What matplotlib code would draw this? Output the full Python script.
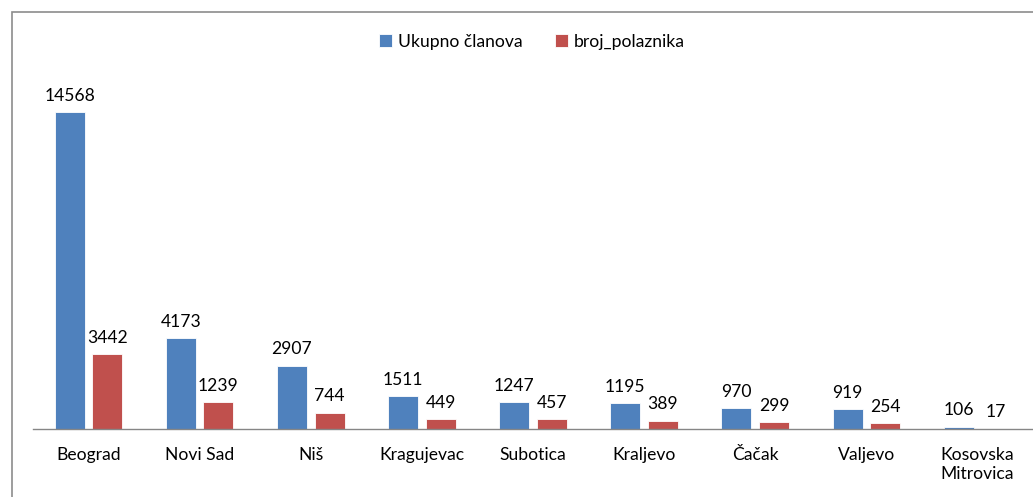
import matplotlib.pyplot as plt
import numpy as np
from matplotlib.patches import Rectangle

# data
cities = ['Beograd', 'Novi Sad', 'Niš', 'Kragujevac', 'Subotica',
          'Kraljevo', 'Čačak', 'Valjevo', 'Kosovska\nMitrovica']
ukupno = [14568, 4173, 2907, 1511, 1247, 1195, 970, 919, 106]
polaznici = [3442, 1239, 744, 449, 457, 389, 299, 254, 17]

plt.rcParams['font.family'] = ['Lato', 'DejaVu Sans']
fs = 12.6

fig = plt.figure(figsize=(10.33, 4.97), dpi=100)
ax = fig.add_axes([33 / 1033, 1 - 429 / 497, 1000 / 1033, (429 - 81) / 497])

x = np.arange(len(cities))
w = 0.27
off = 0.169
b1 = ax.bar(x - off, ukupno, w, color='#4f81bd', edgecolor='white', linewidth=0.6,
            label='Ukupno članova')
b2 = ax.bar(x + off, polaznici, w, color='#c0504d', edgecolor='white', linewidth=0.6,
            label='broj_polaznika')

for bars, vals in [(b1, ukupno), (b2, polaznici)]:
    for b, v in zip(bars, vals):
        ax.annotate(str(v), (b.get_x() + b.get_width() / 2, v),
                    xytext=(0, 6), textcoords='offset points',
                    ha='center', va='bottom', fontsize=fs, color='black')

ax.set_xlim(-0.5, len(cities) - 0.5)
ax.set_ylim(0, 16000)
ax.set_xticks(x)
ax.set_xticklabels(cities, fontsize=fs)
ax.tick_params(axis='x', length=0, pad=13)
ax.set_yticks([])
for s in ['top', 'right', 'left']:
    ax.spines[s].set_visible(False)
ax.spines['bottom'].set_color('#868686')
ax.spines['bottom'].set_linewidth(1.0)

fig.legend(loc='center', bbox_to_anchor=(0.515, 1 - 42 / 497), ncol=2,
           frameon=False, fontsize=fs, handlelength=0.75, handleheight=0.75,
           columnspacing=1.8, handletextpad=0.35)

# outer frame
fig.patches.append(Rectangle((12 / 1033, -0.1), 1.2, 1 - 12 / 497 + 0.1,
                             transform=fig.transFigure, fill=False,
                             edgecolor='#8c8c8c', linewidth=1.2))

fig.savefig('out.png', dpi=100)
